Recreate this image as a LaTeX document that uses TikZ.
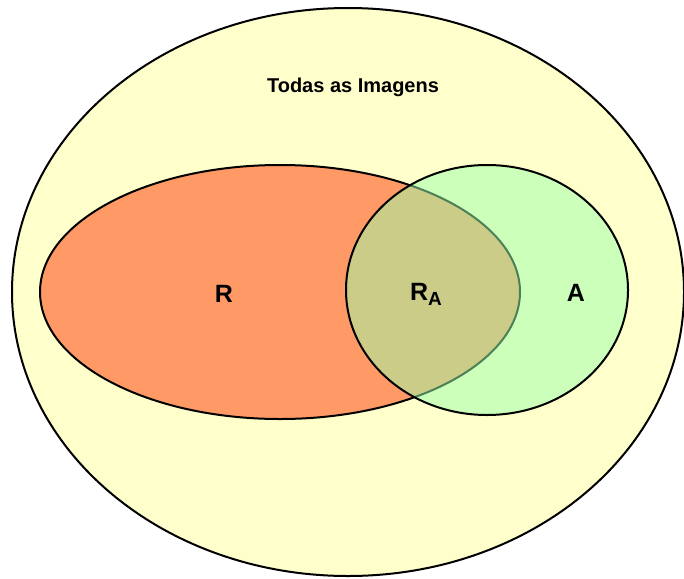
\documentclass[tikz,border=0pt]{standalone}
\usepackage{fontspec}
\setmainfont{Liberation Sans}
\definecolor{fundo}{RGB}{255,255,204}
\definecolor{relev}{RGB}{255,153,102}
\definecolor{resp}{RGB}{153,255,170}
\tikzset{
  conjunto/.style={
    draw=black, line width=2pt
  },
  rotulo/.style={
    font=\fontsize{25}{28}\selectfont\bfseries,
    inner sep=0
  }
}

\begin{document}
\begin{tikzpicture}[x=1pt,y=-1pt]
\useasboundingbox (0,0) rectangle (684,578);

%%%%%%%%% todas as imagens
\filldraw[conjunto, fill=fundo] (348,292) ellipse [x radius=336, y radius=284];
\node[font=\fontsize{20}{24}\selectfont\bfseries] (todas) at (353,87) {Todas as Imagens};

%%%%%%%%% relevantes
\filldraw[conjunto, fill=relev] (280,292) ellipse [x radius=240, y radius=127];

%%%%%%%%% resposta
\filldraw[conjunto, fill=resp, fill opacity=0.5] (487,290) ellipse [x radius=141, y radius=125];

\node[rotulo] (R) at (224,294) {R};
\node[rotulo] (RA) at (426,294) {R\raisebox{-5pt}{\fontsize{19}{22}\selectfont A}};
\node[rotulo] (A) at (576,293) {A};

\end{tikzpicture}
\end{document}
